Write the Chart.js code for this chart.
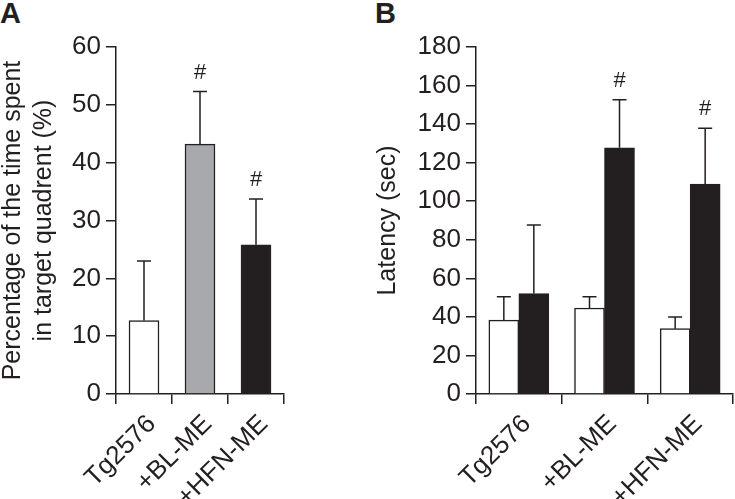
<!DOCTYPE html>
<html lang="en">
<head>
    <meta charset="UTF-8">
    <title>Probe trial and latency</title>
    <script src="https://cdn.jsdelivr.net/npm/chart.js"></script>
    <style>
      body { margin: 0; background: #fff; width: 735px; height: 499px; overflow: hidden; position: relative; }
      .panel { position: absolute; top: 0; }
      .letter { position: absolute; top: -3px; font: bold 29px 'Liberation Sans', Arial, sans-serif; color: #231f20; }
    </style>
</head>
<body>
  <div class="letter" style="left: 0px;">A</div>
  <div class="letter" style="left: 375px;">B</div>

  <div class="panel" style="left: 0px;"><canvas id="chartA" width="360" height="499"></canvas></div>
  <div class="panel" style="left: 360px;"><canvas id="chartB" width="375" height="499"></canvas></div>

    <script>
        // groups on the x axis
        const groups = ['Tg2576', '+BL-ME', '+HFN-ME'];

        // panel A: time in target quadrant (%)
        const timeMean = [12.7, 43.2, 25.8];
        const timeErr = [10.3, 9.1, 7.9];
        const timeSig = ['', '#', '#'];

        // panel B: latency (sec), two bars per group
        const latencyWhite = [38.3, 44.6, 33.9];
        const latencyWhiteErr = [12.1, 5.8, 6.1];
        const latencyBlack = [52.1, 127.7, 108.9];
        const latencyBlackErr = [35.6, 24.9, 29.0];
        const latencySig = ['', '#', '#'];

        const ink = '#231f20';
        const fontFam = "'Liberation Sans', Arial, sans-serif";
        Chart.defaults.font.family = fontFam;
        Chart.defaults.color = ink;

        // draws upward error bars and the # marks over each bar
        const errorBars = {
            id: 'errorBars',
            afterDatasetsDraw(chart) {
                const ctx = chart.ctx;
                const y = chart.scales.y;
                chart.data.datasets.forEach((ds, i) => {
                    const meta = chart.getDatasetMeta(i);
                    meta.data.forEach((bar, j) => {
                        const top = y.getPixelForValue(ds.data[j] + ds.errors[j]);
                        ctx.save();
                        ctx.strokeStyle = ink;
                        ctx.lineWidth = 1.5;
                        ctx.beginPath();
                        ctx.moveTo(bar.x, bar.y);
                        ctx.lineTo(bar.x, top);
                        ctx.moveTo(bar.x - 7, top);
                        ctx.lineTo(bar.x + 7, top);
                        ctx.stroke();
                        if (ds.sig && ds.sig[j]) {
                            ctx.fillStyle = ink;
                            ctx.font = '22px ' + fontFam;
                            ctx.textAlign = 'center';
                            ctx.textBaseline = 'middle';
                            ctx.fillText(ds.sig[j], bar.x, top - 19);
                        }
                        ctx.restore();
                    });
                });
            }
        };

        function axes(max, step, title, titlePad) {
            return {
                x: {
                    afterFit: s => { s.height = 105; },
                    border: { color: ink, width: 1.5 },
                    grid: { drawOnChartArea: false, color: ink, lineWidth: 1.5, tickLength: 10 },
                    ticks: { autoSkip: false, minRotation: 45, maxRotation: 45, font: { size: 26 }, color: ink, padding: 5, labelOffset: 8 }
                },
                y: {
                    min: 0, max: max,
                    afterFit: s => { s.width = 116; },
                    border: { color: ink, width: 1.5 },
                    grid: { drawOnChartArea: false, color: ink, lineWidth: 1.5, tickLength: 10 },
                    ticks: { stepSize: step, font: { size: 26 }, color: ink, padding: 5 },
                    title: { display: true, text: title, font: { size: 25, lineHeight: 1.25 }, color: ink, padding: { top: titlePad, bottom: 0 } }
                }
            };
        }

        new Chart(document.getElementById('chartA'), {
            type: 'bar',
            data: {
                labels: groups,
                datasets: [{
                    data: timeMean,
                    errors: timeErr,
                    sig: timeSig,
                    backgroundColor: ['#ffffff', '#a7a9ac', ink],
                    borderColor: ink,
                    borderWidth: 1.5,
                    barThickness: 30
                }]
            },
            options: {
                responsive: false,
                animation: false,
                layout: { padding: { top: 47, right: 76, left: 0, bottom: 0 } },
                plugins: { legend: { display: false }, tooltip: { enabled: false } },
                scales: axes(60, 10, ['Percentage of the time spent', 'in target quadrent (%)'], -3)
            },
            plugins: [errorBars]
        });

        new Chart(document.getElementById('chartB'), {
            type: 'bar',
            data: {
                labels: groups,
                datasets: [{
                    data: latencyWhite,
                    errors: latencyWhiteErr,
                    backgroundColor: '#ffffff',
                    borderColor: ink,
                    borderWidth: 1.5,
                    barThickness: 30
                }, {
                    data: latencyBlack,
                    errors: latencyBlackErr,
                    sig: latencySig,
                    backgroundColor: ink,
                    borderColor: ink,
                    borderWidth: 1.5,
                    barThickness: 30
                }]
            },
            options: {
                responsive: false,
                animation: false,
                layout: { padding: { top: 47, right: 2, left: 0, bottom: 0 } },
                plugins: { legend: { display: false }, tooltip: { enabled: false } },
                scales: axes(180, 20, 'Latency (sec)', 12)
            },
            plugins: [errorBars]
        });
    </script>
</body>
</html>
